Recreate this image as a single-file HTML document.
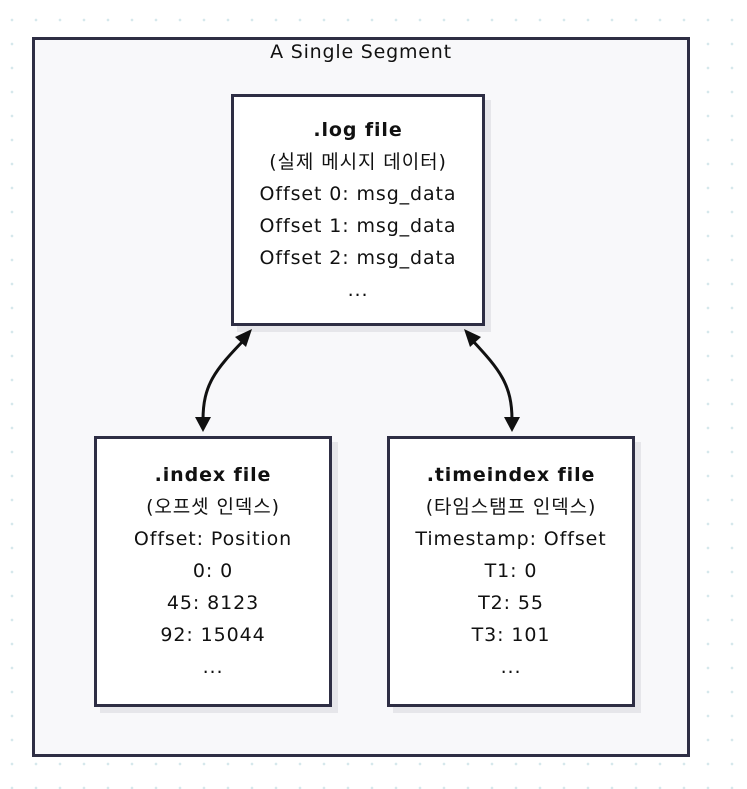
<!DOCTYPE html>
<html><head><style>
body{margin:0;width:747px;height:789px;background:#fff;background-image:radial-gradient(circle,#d6e8ec 1.2px,transparent 1.5px);background-size:24px 24px;background-position:0 8px;font-family:"DejaVu Sans","Noto Sans CJK KR",sans-serif;color:#111;position:relative;overflow:hidden}
.outer{position:absolute;left:32px;top:37px;width:652px;height:714px;border:3px solid #2e2e44;background:#f8f8fa}
.title{position:absolute;left:32px;width:658px;top:41px;text-align:center;font-size:19px;letter-spacing:0.8px}
.box{position:absolute;background:#fff;border:3px solid #2e2e44;box-shadow:6px 6px 0 #e6e6ea;text-align:center;font-size:19px;letter-spacing:0.9px;box-sizing:border-box}
.box div{height:32px;line-height:32px;white-space:nowrap}
.box b{font-weight:bold}
</style></head><body>
<div class="outer"></div>
<div class="title">A Single Segment</div>
<div class="box" style="left:231px;top:94px;width:254px;height:232px;padding-top:17px">
<div><b>.log file</b></div><div>(실제 메시지 데이터)</div><div>Offset 0: msg_data</div><div>Offset 1: msg_data</div><div>Offset 2: msg_data</div><div>...</div></div>
<div class="box" style="left:94px;top:436px;width:238px;height:271px;padding-top:20px">
<div><b>.index file</b></div><div>(오프셋 인덱스)</div><div>Offset: Position</div><div>0: 0</div><div>45: 8123</div><div>92: 15044</div><div>...</div></div>
<div class="box" style="left:387px;top:436px;width:248px;height:271px;padding-top:20px">
<div><b>.timeindex file</b></div><div>(타임스탬프 인덱스)</div><div>Timestamp: Offset</div><div>T1: 0</div><div>T2: 55</div><div>T3: 101</div><div>...</div></div>
<svg width="747" height="789" style="position:absolute;left:0;top:0">
<g stroke="#111" stroke-width="3" fill="none">
<path d="M244 340 C215 370 203 385 203 420"/>
<path d="M472 340 C500 370 512 385 512 420"/>
</g>
<g fill="#111">
<polygon points="252,329 235,337 246,347"/>
<polygon points="195,417 211,417 203,432"/>
<polygon points="464,329 481,337 470,347"/>
<polygon points="504,417 520,417 512,432"/>
</g>
</svg>
</body></html>
